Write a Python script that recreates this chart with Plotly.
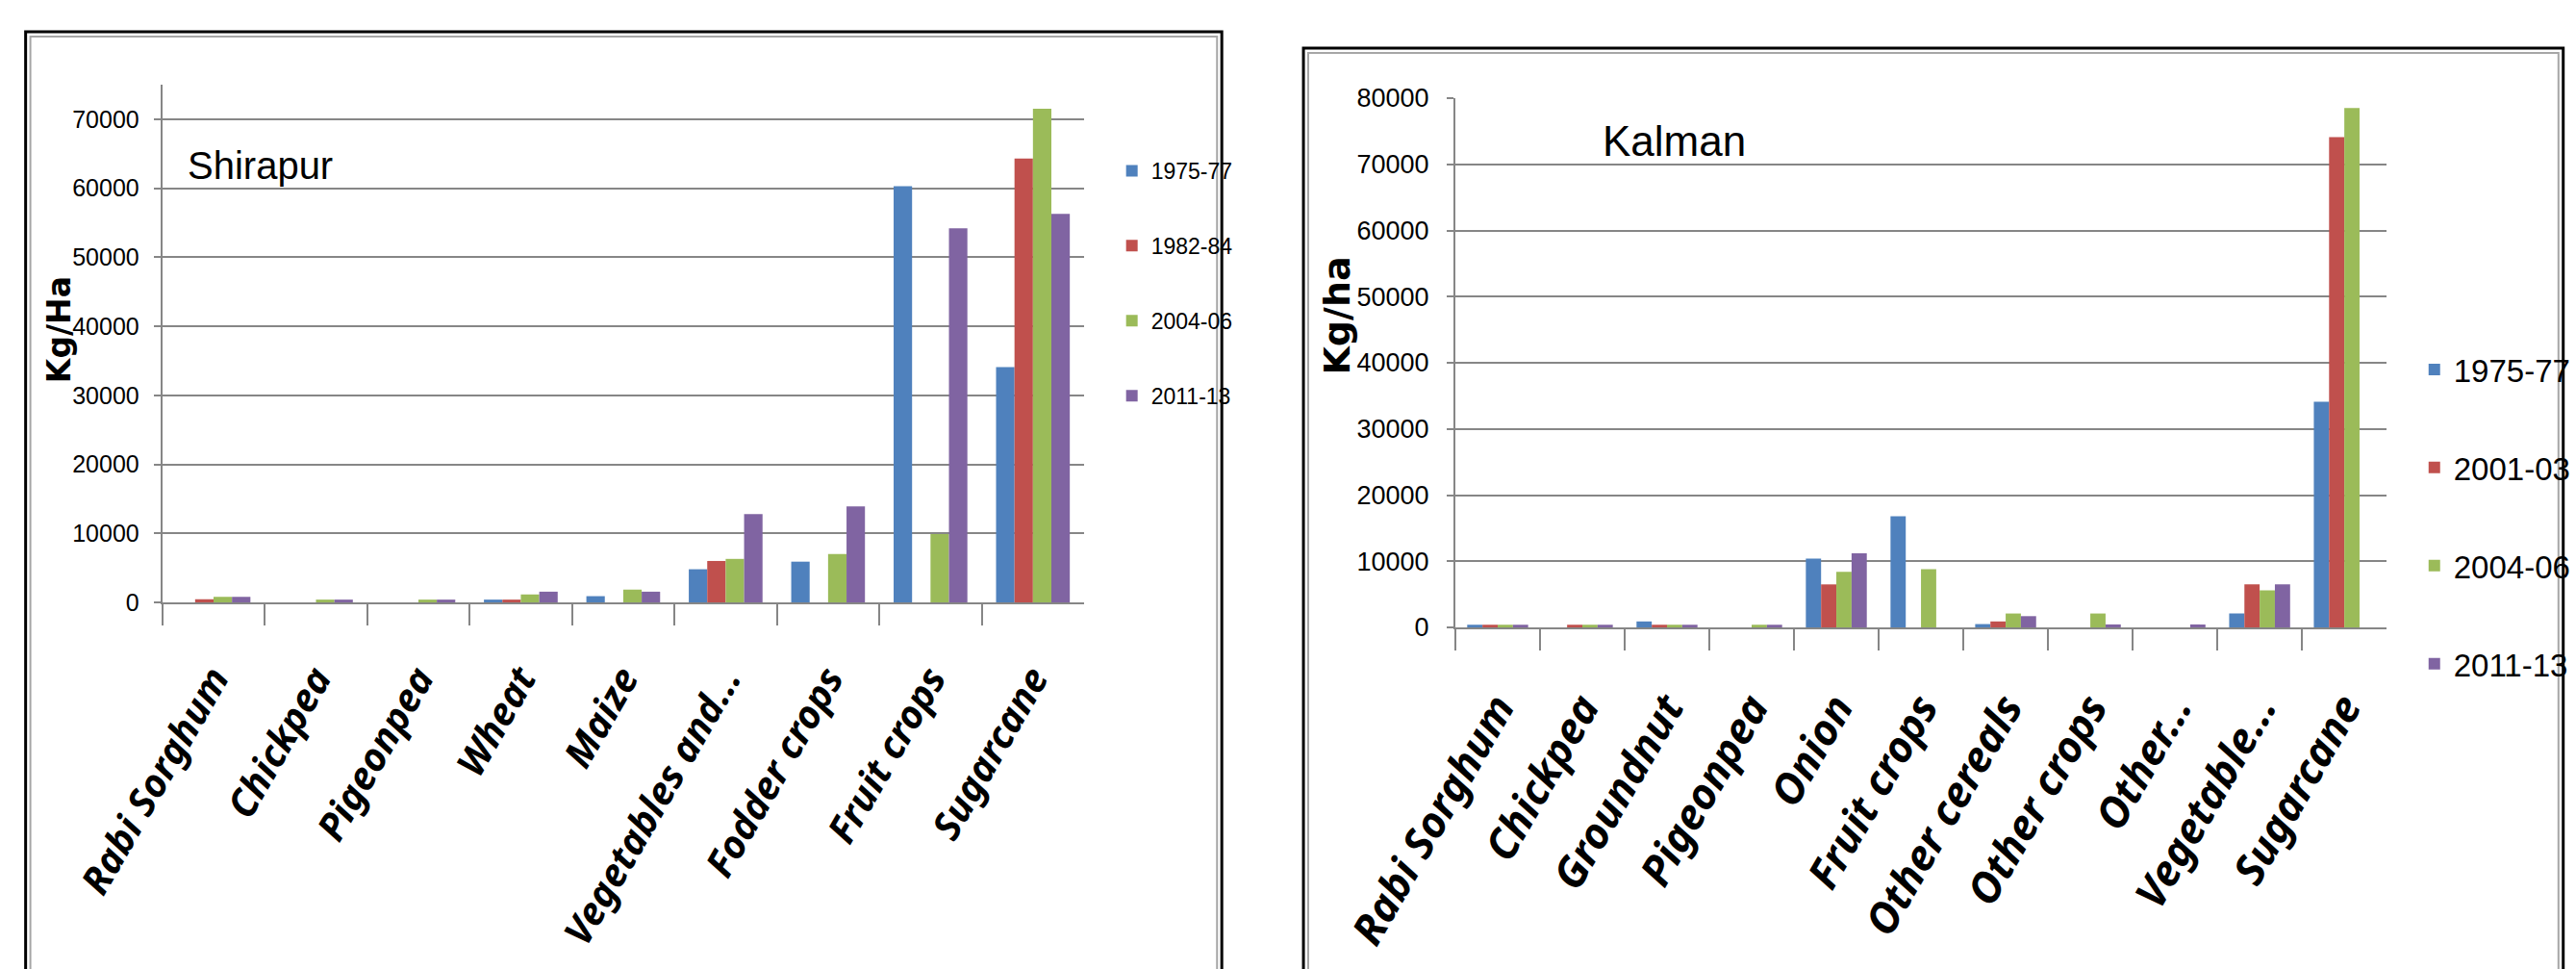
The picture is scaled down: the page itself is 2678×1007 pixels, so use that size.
import plotly.graph_objects as go

# ---- Shirapur ----
shirapur_crops = ["Rabi Sorghum", "Chickpea", "Pigeonpea", "Wheat", "Maize",
                  "Vegetables and...", "Fodder crops", "Fruit crops", "Sugarcane"]
shirapur_periods = ["1975-77", "1982-84", "2004-06", "2011-13"]
shirapur_1975_77 = [0, 0, 0, 400, 900, 4800, 5900, 60300, 34100]
shirapur_1982_84 = [450, 0, 0, 400, 0, 6000, 0, 0, 64300]
shirapur_2004_06 = [800, 400, 400, 1150, 1850, 6300, 7000, 9900, 71500]
shirapur_2011_13 = [800, 400, 400, 1550, 1550, 12800, 13900, 54200, 56300]

# ---- Kalman ----
kalman_crops = ["Rabi Sorghum", "Chickpea", "Groundnut", "Pigeonpea", "Onion",
                "Fruit crops", "Other cereals", "Other crops", "Other...",
                "Vegetable...", "Sugarcane"]
kalman_periods = ["1975-77", "2001-03", "2004-06", "2011-13"]
kalman_1975_77 = [400, 0, 900, 0, 10400, 16800, 500, 0, 0, 2100, 34100]
kalman_2001_03 = [400, 400, 400, 0, 6500, 0, 900, 0, 0, 6500, 74100]
kalman_2004_06 = [400, 400, 400, 400, 8400, 8800, 2100, 2100, 0, 5600, 78500]
kalman_2011_13 = [400, 400, 400, 400, 11200, 0, 1700, 450, 450, 6500, 0]

colors = ["#4F81BD", "#C0504D", "#9BBB59", "#8064A2"]

W, H = 2678, 1007


def px(x):
    return x / W


def py(y):
    return 1 - y / H


NARROW = "Liberation Sans, Arial, sans-serif"
LABEL = "Noto Sans, Open Sans, Liberation Sans, sans-serif"
GRID = "#868686"

fig = go.Figure()

for name, vals, col in zip(shirapur_periods,
                           [shirapur_1975_77, shirapur_1982_84, shirapur_2004_06, shirapur_2011_13],
                           colors):
    fig.add_bar(x=shirapur_crops, y=vals, name=name, marker=dict(color=col, line=dict(width=0)),
                xaxis="x", yaxis="y", legend="legend", legendgroup="s" + name)

for name, vals, col in zip(kalman_periods,
                           [kalman_1975_77, kalman_2001_03, kalman_2004_06, kalman_2011_13],
                           colors):
    fig.add_bar(x=kalman_crops, y=vals, name=name, marker=dict(color=col, line=dict(width=0)),
                xaxis="x2", yaxis="y2", legend="legend2", legendgroup="k" + name)


def xaxis_style(domain, anchor, size, standoff):
    return dict(domain=domain, anchor=anchor, type="category", showline=True, linecolor=GRID,
                linewidth=2, ticks="outside", tickson="boundaries", ticklen=22, tickwidth=2,
                tickcolor=GRID, tickangle=-60, showgrid=False, automargin=False,
                ticklabelstandoff=standoff,
                tickfont=dict(family=LABEL, size=size, color="black", weight="bold", style="italic"))


def yaxis_style(domain, anchor, rmax, size, standoff):
    return dict(domain=domain, anchor=anchor, range=[0, rmax], tick0=0, dtick=10000,
                tickformat="d", showgrid=True, gridcolor=GRID, gridwidth=2, showline=True,
                linecolor=GRID, linewidth=2, ticks="outside", ticklen=7, tickwidth=2,
                tickcolor=GRID, zeroline=False, automargin=False, ticklabelstandoff=standoff,
                tickfont=dict(family=NARROW, size=size, color="black"))


fig.update_layout(
    width=W, height=H,
    margin=dict(l=0, r=0, t=0, b=0),
    paper_bgcolor="white", plot_bgcolor="white",
    barmode="group", bargap=0.28, bargroupgap=0,
    xaxis=xaxis_style([px(171), px(1142)], "y", 40, 38),
    yaxis=yaxis_style([py(626), py(88)], "x", 75000, 25, 10),
    xaxis2=xaxis_style([px(1533), px(2514)], "y2", 44, 38),
    yaxis2=yaxis_style([py(652), py(102)], "x2", 80000, 27, 13),
    legend=dict(x=px(1172), y=py(156), xanchor="left", yanchor="top",
                font=dict(family=NARROW, size=23, color="black"),
                tracegroupgap=45, bgcolor="rgba(0,0,0,0)", borderwidth=0),
    legend2=dict(x=px(2544), y=py(356), xanchor="left", yanchor="top",
                 font=dict(family=NARROW, size=33, color="black"),
                 tracegroupgap=56, bgcolor="rgba(0,0,0,0)", borderwidth=0),
    showlegend=True,
)

# chart titles and axis titles
fig.add_annotation(text="Shirapur", xref="paper", yref="paper", x=px(196), y=py(172),
                   xanchor="left", yanchor="middle", showarrow=False,
                   font=dict(family=NARROW, size=40, color="black"))
fig.add_annotation(text="Kalman", xref="paper", yref="paper", x=px(1686), y=py(146),
                   xanchor="left", yanchor="middle", showarrow=False,
                   font=dict(family=NARROW, size=44, color="black"))
fig.add_annotation(text="Kg/Ha", xref="paper", yref="paper", x=px(63), y=py(343),
                   xanchor="center", yanchor="middle", textangle=-90, showarrow=False,
                   font=dict(family="DejaVu Sans, sans-serif", size=33, color="black", weight="bold"))
fig.add_annotation(text="Kg/ha", xref="paper", yref="paper", x=px(1408), y=py(328),
                   xanchor="center", yanchor="middle", textangle=-90, showarrow=False,
                   font=dict(family="DejaVu Sans, sans-serif", size=38, color="black", weight="bold"))

# chart-area borders: dark outer line with a light inner line
for x0, y0, x1, y1 in [(27, 33, 1287, 1030), (1373, 50, 2700, 1030)]:
    fig.add_shape(type="rect", xref="paper", yref="paper", x0=px(x0), y0=py(y1), x1=px(x1), y1=py(y0),
                  line=dict(color="black", width=3), fillcolor="rgba(0,0,0,0)", layer="above")
    fig.add_shape(type="rect", xref="paper", yref="paper", x0=px(x0 + 5), y0=py(y1), x1=px(x1 - 5),
                  y1=py(y0 + 5), line=dict(color="#a6a6a6", width=2), fillcolor="rgba(0,0,0,0)",
                  layer="above")

fig.write_html("out.html")
